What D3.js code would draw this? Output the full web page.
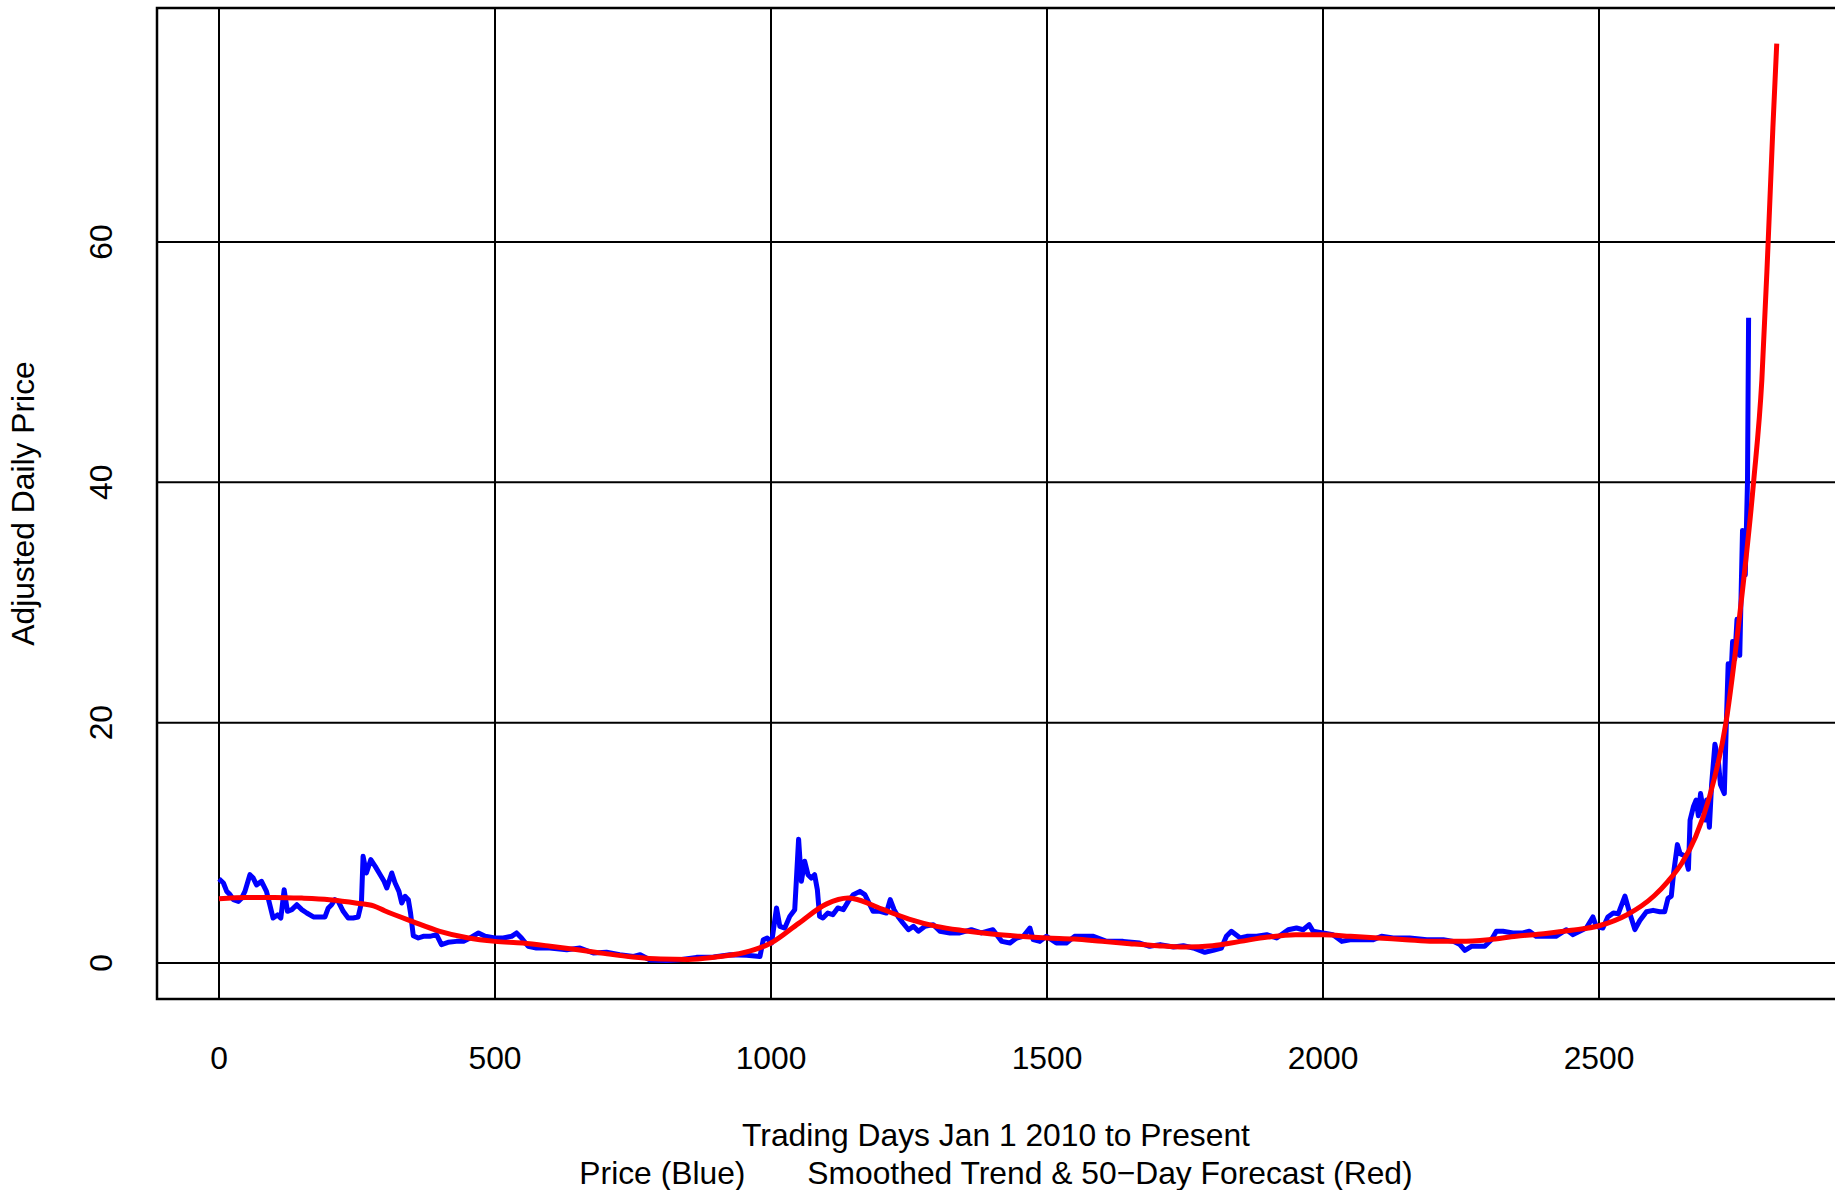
<!DOCTYPE html>
<html>
<head>
<meta charset="utf-8">
<script src="https://cdn.jsdelivr.net/npm/d3@7"></script>
<style>
  body { margin: 0; background: white; }
  text { font-family: "Liberation Sans", Arial, sans-serif; }
</style>
</head>
<body>
<div id="chart"></div>
<script>
// Daily adjusted price (blue)
const priceDays = [0, 8, 14, 20, 26, 35, 41, 47, 56, 62, 68, 77, 86, 92, 98, 106, 112, 118, 124, 132, 141, 150, 159, 171, 183, 192, 198, 204, 210, 216, 225, 234, 243, 252, 258, 261, 267, 275, 283, 292, 299, 304, 313, 319, 326, 331, 337, 343, 347, 352, 361, 370, 382, 394, 403, 415, 430, 443, 455, 470, 482, 500, 515, 530, 539, 548, 560, 575, 599, 630, 654, 678, 702, 726, 751, 763, 781, 811, 835, 865, 896, 926, 956, 980, 986, 993, 1001, 1010, 1016, 1025, 1034, 1043, 1046, 1050, 1055, 1061, 1067, 1073, 1079, 1084, 1088, 1094, 1103, 1112, 1121, 1131, 1140, 1149, 1161, 1170, 1179, 1185, 1197, 1209, 1216, 1223, 1230, 1239, 1249, 1258, 1267, 1279, 1294, 1306, 1324, 1342, 1363, 1381, 1402, 1418, 1433, 1445, 1457, 1469, 1475, 1487, 1499, 1517, 1535, 1550, 1584, 1608, 1638, 1668, 1686, 1705, 1729, 1747, 1765, 1786, 1801, 1816, 1825, 1834, 1850, 1862, 1880, 1898, 1916, 1937, 1952, 1964, 1975, 1982, 2000, 2018, 2034, 2049, 2067, 2091, 2106, 2127, 2157, 2188, 2218, 2236, 2248, 2257, 2269, 2284, 2293, 2305, 2314, 2326, 2344, 2362, 2374, 2386, 2404, 2422, 2441, 2453, 2465, 2477, 2489, 2495, 2507, 2516, 2526, 2535, 2547, 2556, 2565, 2574, 2586, 2598, 2610, 2619, 2625, 2631, 2635, 2642, 2647, 2656, 2662, 2665, 2671, 2676, 2680, 2684, 2692, 2695, 2700, 2704, 2710, 2716, 2720, 2727, 2731, 2734, 2739, 2742, 2746, 2750, 2755, 2760, 2765, 2769, 2771];
const priceValues = [7.0, 6.66, 5.96, 5.69, 5.27, 5.13, 5.4, 5.96, 7.35, 7.07, 6.5, 6.8, 5.96, 4.85, 3.74, 4.0, 3.74, 6.1, 4.3, 4.44, 4.85, 4.44, 4.16, 3.83, 3.83, 3.83, 4.58, 4.85, 5.27, 5.13, 4.3, 3.74, 3.74, 3.83, 4.99, 8.88, 7.49, 8.6, 8.04, 7.35, 6.8, 6.24, 7.49, 6.66, 5.96, 4.99, 5.55, 5.27, 4.16, 2.27, 2.08, 2.22, 2.22, 2.36, 1.53, 1.72, 1.8, 1.8, 2.08, 2.5, 2.22, 2.08, 2.08, 2.22, 2.5, 2.08, 1.39, 1.25, 1.25, 1.11, 1.25, 0.83, 0.89, 0.69, 0.55, 0.69, 0.25, 0.2, 0.28, 0.47, 0.5, 0.69, 0.64, 0.55, 1.94, 2.08, 1.66, 4.58, 3.05, 2.91, 3.88, 4.44, 6.93, 10.3, 6.8, 8.46, 7.35, 7.07, 7.35, 6.1, 3.88, 3.74, 4.16, 4.02, 4.58, 4.44, 5.13, 5.69, 5.96, 5.69, 4.85, 4.3, 4.3, 4.16, 5.27, 4.44, 3.88, 3.33, 2.77, 3.05, 2.64, 3.05, 3.19, 2.64, 2.5, 2.5, 2.77, 2.5, 2.77, 1.8, 1.66, 2.08, 2.22, 2.91, 1.94, 1.8, 2.22, 1.66, 1.66, 2.22, 2.22, 1.8, 1.8, 1.66, 1.39, 1.53, 1.33, 1.44, 1.25, 0.89, 1.05, 1.25, 2.22, 2.64, 2.08, 2.22, 2.22, 2.36, 2.08, 2.77, 2.91, 2.77, 3.19, 2.64, 2.5, 2.36, 1.8, 1.94, 1.94, 1.94, 2.22, 2.08, 2.08, 1.94, 1.94, 1.8, 1.53, 1.05, 1.39, 1.39, 1.39, 1.94, 2.64, 2.64, 2.5, 2.5, 2.64, 2.22, 2.22, 2.22, 2.77, 2.36, 2.64, 2.91, 3.83, 3.05, 2.91, 3.83, 4.16, 4.1, 5.57, 4.1, 2.78, 3.53, 4.27, 4.38, 4.27, 4.27, 5.38, 5.57, 7.42, 9.85, 9.1, 8.9, 7.8, 11.9, 13.0, 13.56, 12.26, 14.1, 11.9, 13.56, 11.3, 14.86, 18.2, 16.9, 14.86, 14.1, 20.4, 24.9, 23.8, 26.75, 25.3, 28.6, 25.6, 36.0, 32.3, 40.0, 53.7];

// Smoothed trend plus 50-day forecast (red)
const trendDays = [0, 50, 100, 150, 200, 250, 280, 300, 350, 400, 450, 500, 550, 600, 650, 700, 750, 800, 850, 900, 950, 1000, 1050, 1100, 1140, 1150, 1200, 1250, 1300, 1350, 1400, 1450, 1500, 1550, 1600, 1650, 1700, 1750, 1800, 1850, 1900, 1950, 2000, 2050, 2100, 2150, 2200, 2250, 2300, 2350, 2400, 2450, 2500, 2550, 2600, 2625, 2650, 2675, 2700, 2730, 2755, 2780, 2795, 2806, 2815, 2822];
const trendValues = [5.35, 5.46, 5.46, 5.4, 5.27, 4.98, 4.75, 4.35, 3.47, 2.64, 2.1, 1.8, 1.66, 1.4, 1.1, 0.78, 0.5, 0.33, 0.3, 0.5, 0.85, 1.66, 3.3, 4.9, 5.4, 5.35, 4.5, 3.66, 3.05, 2.69, 2.41, 2.22, 2.08, 2.0, 1.8, 1.61, 1.44, 1.33, 1.44, 1.8, 2.16, 2.36, 2.36, 2.22, 2.08, 1.94, 1.8, 1.8, 1.94, 2.22, 2.44, 2.72, 3.1, 4.0, 5.6, 6.8, 8.3, 10.5, 13.8, 20.0, 29.0, 40.0, 48.5, 59.5, 69.5, 76.5];

const xTicks = [0, 500, 1000, 1500, 2000, 2500];
const yTicks = [0, 20, 40, 60];

const width = 1835;
const height = 1190;
const box = { left: 157, top: 8, right: 1840, bottom: 999 };
const fontSize = 31.8;

const svg = d3.select("#chart").append("svg")
    .attr("width", width)
    .attr("height", height)
    .style("display", "block");

// Scales
const x = d3.scaleLinear().domain([0, 2500]).range([219, 1599]);
const y = d3.scaleLinear().domain([0, 60]).range([963, 242]);

// Grid lines across the whole plot box
svg.append("g").selectAll("line")
    .data(xTicks)
    .join("line")
    .attr("x1", d => x(d)).attr("x2", d => x(d))
    .attr("y1", box.top).attr("y2", box.bottom)
    .attr("stroke", "black")
    .attr("stroke-width", 2);

svg.append("g").selectAll("line")
    .data(yTicks)
    .join("line")
    .attr("x1", box.left).attr("x2", box.right)
    .attr("y1", d => y(d)).attr("y2", d => y(d))
    .attr("stroke", "black")
    .attr("stroke-width", 2);

// Price line
const price = priceDays.map((d, i) => [d, priceValues[i]]);
const trend = trendDays.map((d, i) => [d, trendValues[i]]);

svg.append("path")
    .datum(price)
    .attr("fill", "none")
    .attr("stroke", "#0000ff")
    .attr("stroke-width", 5)
    .attr("stroke-linejoin", "round")
    .attr("d", d3.line().x(d => x(d[0])).y(d => y(d[1])));

// Trend and forecast
svg.append("path")
    .datum(trend)
    .attr("fill", "none")
    .attr("stroke", "#ff0000")
    .attr("stroke-width", 5)
    .attr("d", d3.line().curve(d3.curveMonotoneX).x(d => x(d[0])).y(d => y(d[1])));

// Plot box
svg.append("rect")
    .attr("x", box.left)
    .attr("y", box.top)
    .attr("width", box.right - box.left)
    .attr("height", box.bottom - box.top)
    .attr("fill", "none")
    .attr("stroke", "black")
    .attr("stroke-width", 2.5);

// Tick labels (no tick marks)
svg.append("g").selectAll("text")
    .data(xTicks)
    .join("text")
    .attr("x", d => x(d))
    .attr("y", 1069)
    .attr("text-anchor", "middle")
    .attr("font-size", fontSize)
    .text(d => d);

svg.append("g").selectAll("text")
    .data(yTicks)
    .join("text")
    .attr("transform", d => `translate(112,${y(d)}) rotate(-90)`)
    .attr("text-anchor", "middle")
    .attr("font-size", fontSize)
    .text(d => d);

// Axis titles
const midX = (box.left + 1835) / 2;
svg.append("text")
    .attr("x", midX)
    .attr("y", 1146)
    .attr("text-anchor", "middle")
    .attr("font-size", fontSize)
    .text("Trading Days Jan 1 2010 to Present");

svg.append("text")
    .attr("x", midX)
    .attr("y", 1184)
    .attr("text-anchor", "middle")
    .attr("font-size", fontSize)
    .style("white-space", "pre")
    .text("Price (Blue)       Smoothed Trend & 50\u2212Day Forecast (Red)");

svg.append("text")
    .attr("transform", `translate(34,${(box.top + box.bottom) / 2}) rotate(-90)`)
    .attr("text-anchor", "middle")
    .attr("font-size", fontSize)
    .text("Adjusted Daily Price");
</script>
</body>
</html>
